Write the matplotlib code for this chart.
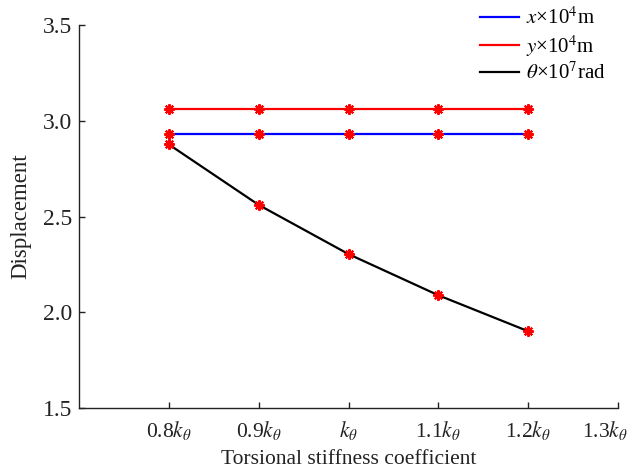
import matplotlib
matplotlib.use("Agg")
import matplotlib.pyplot as plt
from matplotlib.transforms import ScaledTranslation

# Torsional stiffness ratio (multiples of k_theta) and the resulting displacements
stiffness = [0.8, 0.9, 1.0, 1.1, 1.2]
disp_x = [2.934, 2.934, 2.934, 2.934, 2.934]
disp_y = [3.064, 3.064, 3.064, 3.064, 3.064]
rot_theta = [2.877, 2.561, 2.304, 2.089, 1.901]

xtick_vals = [0.8, 0.9, 1.0, 1.1, 1.2, 1.3]
xtick_labels = [r"0.8$k_\theta$", r"0.9$k_\theta$", r"$k_\theta$",
                r"1.1$k_\theta$", r"1.2$k_\theta$", r"1.3$k_\theta$"]
ytick_vals = [1.5, 2.0, 2.5, 3.0, 3.5]

plt.rcParams["font.family"] = ["Liberation Serif", "DejaVu Serif"]
plt.rcParams["mathtext.fontset"] = "stix"

fig = plt.figure(figsize=(6.32, 4.75), dpi=100)
ax = fig.add_axes([0.125, 0.141, 0.853, 0.806])

star = (8, 2, 0)
common = dict(marker=star, markersize=7.5, markeredgecolor="red",
              markerfacecolor="red", markeredgewidth=1.5, linewidth=1.6)
ax.plot(stiffness, disp_x, color="blue", **common)
ax.plot(stiffness, disp_y, color="red", **common)
ax.plot(stiffness, rot_theta, color="black", **common)

ax.set_xlim(0.7, 1.3)
ax.set_ylim(1.5, 3.5)
ax.set_xticks(xtick_vals)
ax.set_xticklabels(xtick_labels)
ax.set_yticks(ytick_vals)
ax.set_yticklabels([f"{v:.1f}" for v in ytick_vals])

for side in ("top", "right"):
    ax.spines[side].set_visible(False)
for side in ("left", "bottom"):
    ax.spines[side].set_linewidth(1.0)
    ax.spines[side].set_color("#222222")

ax.tick_params(direction="in", length=4, width=1.0, colors="#222222")
ax.tick_params(axis="x", pad=8, labelsize=15.5)
ax.tick_params(axis="y", pad=5, labelsize=17)

# keep the last x label inside the figure
last = ax.get_xticklabels()[-1]
last.set_transform(last.get_transform() + ScaledTranslation(-13 / 100, 0, fig.dpi_scale_trans))

ax.set_xlabel("Torsional stiffness coefficient", fontsize=15.5, labelpad=6, color="#222222")
ax.set_ylabel("Displacement", fontsize=16.5, labelpad=8, color="#222222")

handles = [
    plt.Line2D([], [], color="blue", linewidth=1.6),
    plt.Line2D([], [], color="red", linewidth=1.6),
    plt.Line2D([], [], color="black", linewidth=1.6),
]
labels = [r"$x$×10$^4$m", r"$y$×10$^4$m", r"$\theta$×10$^7$rad"]
ax.legend(handles, labels, loc="upper left", bbox_to_anchor=(0.7595, 0.985),
          bbox_transform=fig.transFigure, borderaxespad=0, borderpad=0,
          frameon=False, fontsize=15, handlelength=1.85, handletextpad=0.35,
          labelspacing=0.2)

fig.savefig("out.png", dpi=100)
